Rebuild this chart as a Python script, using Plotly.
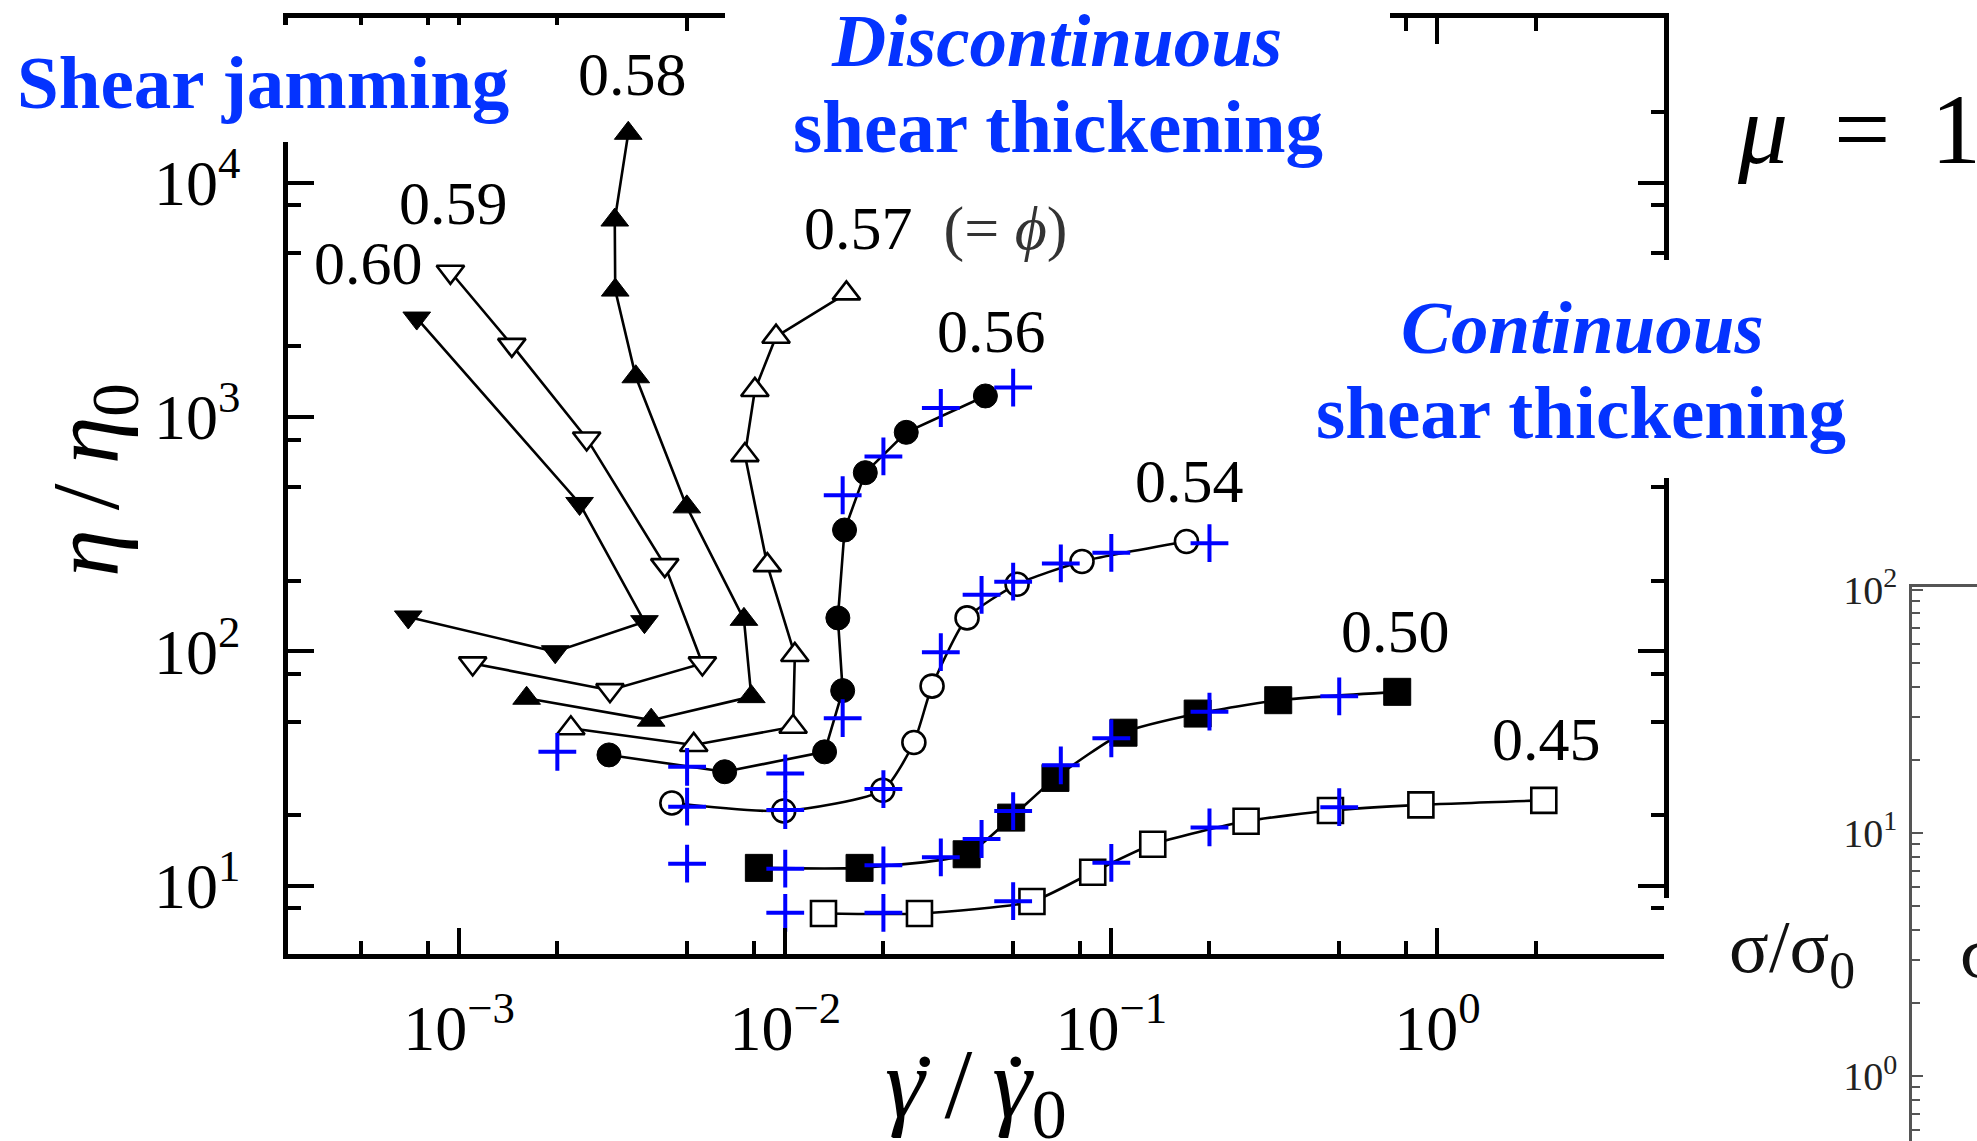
import plotly.graph_objects as go

W, H = 1977, 1141

# ---------------- data ----------------
phi_labels = ["0.60", "0.59", "0.58", "0.57", "0.56", "0.54", "0.50", "0.45"]

x060 = [6.98e-4, 1.97e-3, 3.70e-3, 2.34e-3, 7.41e-4]
y060 = [140, 99.5, 133.7, 427, 2640]

x059 = [1.10e-3, 2.90e-3, 5.57e-3, 4.27e-3, 2.46e-3, 1.45e-3, 9.4e-4]
y059 = [88.7, 68.2, 88.7, 233, 809, 2028, 4160]

x058 = [1.61e-3, 3.88e-3, 7.87e-3, 7.47e-3, 4.99e-3, 3.48e-3, 3.01e-3, 3.00e-3, 3.30e-3]
y058 = [63.0, 50.8, 64.0, 136.8, 413, 1483, 3475, 6918, 16220]

x057 = [2.20e-3, 5.24e-3, 1.057e-2, 1.07e-2, 8.81e-3, 7.52e-3, 8.07e-3, 9.37e-3, 1.54e-2]
y057 = [46.9, 39.8, 47.6, 96.4, 233, 687, 1303, 2198, 3366]

x056 = [2.88e-3, 6.52e-3, 1.32e-2, 1.50e-2, 1.45e-2, 1.52e-2, 1.76e-2, 2.35e-2, 4.11e-2]
y056 = [36.1, 30.6, 37.2, 67.9, 138.7, 329, 578, 859, 1228]

x054 = [4.49e-3, 9.89e-3, 1.99e-2, 2.48e-2, 2.82e-2, 3.61e-2, 5.14e-2, 8.13e-2, 0.170]
y054 = [22.5, 20.8, 25.5, 40.8, 71.0, 138.7, 193, 241.6, 294]

x050 = [8.30e-3, 1.69e-2, 3.60e-2, 4.93e-2, 6.74e-2, 0.109, 0.184, 0.325, 0.753]
y050 = [11.9, 11.9, 13.6, 19.5, 28.8, 44.9, 54.2, 61.8, 67.1]

x045 = [1.31e-2, 2.58e-2, 5.71e-2, 8.77e-2, 0.134, 0.259, 0.470, 0.890, 2.12]
y045 = [7.60, 7.60, 8.55, 11.4, 15.0, 18.8, 20.9, 22.1, 23.1]

cross_x = [0.002, 0.005, 0.005, 0.005, 0.01, 0.01, 0.01, 0.01, 0.015, 0.015,
           0.02, 0.02, 0.02, 0.02, 0.03, 0.03, 0.03, 0.04, 0.04, 0.05,
           0.05, 0.05, 0.05, 0.07, 0.07, 0.1, 0.1, 0.1, 0.2, 0.2, 0.2, 0.5, 0.5]
cross_y = [37.2, 32.1, 21.7, 12.4, 30.1, 21.0, 11.8, 7.65, 51.8, 463,
           678, 25.8, 12.2, 7.65, 1091, 99.1, 13.2, 174, 15.8, 1333,
           198, 20.8, 8.58, 237, 32.6, 263, 42.5, 12.5, 289, 55.2, 17.7, 64.2, 21.6]

x_tickvals = [1e-3, 1e-2, 1e-1, 1]
x_ticktext = ["10<sup>\u22123</sup>", "10<sup>\u22122</sup>", "10<sup>\u22121</sup>", "10<sup>0</sup>"]
y_tickvals = [10, 100, 1000, 10000]
y_ticktext = ["10<sup>1</sup>", "10<sup>2</sup>", "10<sup>3</sup>", "10<sup>4</sup>"]
inset_tickvals = [1, 10, 100]
inset_ticktext = ["10<sup>0</sup>", "10<sup>1</sup>", "10<sup>2</sup>"]

# ---------------- helpers ----------------
def px(x):
    return x / W

def py(y):
    return 1 - y / H

SERIF = "Liberation Serif"
BLUE_TXT = "#0433FF"

fig = go.Figure()

def series(x, y, symbol, filled, size, shape="linear"):
    fig.add_trace(go.Scatter(
        x=x, y=y, mode="lines+markers",
        line=dict(color="black", width=2.6, shape=shape, smoothing=0.6),
        marker=dict(symbol=symbol, size=size,
                    color="black" if filled else "white",
                    line=dict(color="black", width=1 if filled else 2.6)),
        showlegend=False, xaxis="x", yaxis="y"))

series(x060, y060, "triangle-down", True, 24)
series(x059, y059, "triangle-down", False, 24)
series(x058, y058, "triangle-up", True, 24)
series(x057, y057, "triangle-up", False, 24)
series(x056, y056, "circle", True, 24)
series(x054, y054, "circle", False, 23, "spline")
series(x050, y050, "square", True, 27, "spline")
series(x045, y045, "square", False, 25, "spline")

fig.add_trace(go.Scatter(
    x=cross_x, y=cross_y, mode="markers",
    marker=dict(symbol="cross-thin", size=27, color="#0000FF",
                line=dict(color="#0000FF", width=4)),
    showlegend=False, xaxis="x", yaxis="y"))

# inset (dummy trace so axes render)
fig.add_trace(go.Scatter(x=[0.5], y=[5], mode="markers", marker=dict(opacity=0),
                         showlegend=False, xaxis="x2", yaxis="y2", hoverinfo="skip"))

def minor_vals(lo_exp, hi_exp, mults):
    out = []
    for e in range(lo_exp, hi_exp + 1):
        for m in mults:
            out.append(m * 10 ** e)
    return out

axis_common = dict(
    type="log", showline=True, linewidth=4.5, linecolor="black", mirror="allticks",
    ticks="inside", ticklen=26, tickwidth=3.5, tickcolor="black",
    showgrid=False, zeroline=False, tickmode="array", automargin=False,
    tickfont=dict(family=SERIF, size=64, color="black"),
)

fig.update_layout(
    width=W, height=H,
    margin=dict(l=0, r=0, t=0, b=0, autoexpand=False),
    paper_bgcolor="white", plot_bgcolor="rgba(0,0,0,0)",
    xaxis=dict(axis_common, domain=[px(288), px(1664)], range=[-3.525, 0.695],
               anchor="y", tickvals=x_tickvals, ticktext=x_ticktext,
               ticklabelstandoff=14,
               minor=dict(tickmode="array", tickvals=minor_vals(-4, 0, [2, 5, 8]),
                          ticks="inside", ticklen=13, tickwidth=3.5, tickcolor="black",
                          showgrid=False)),
    yaxis=dict(axis_common, domain=[py(954), py(18)], range=[0.708, 4.702],
               anchor="x", tickvals=y_tickvals, ticktext=y_ticktext,
               ticklabelstandoff=30,
               minor=dict(tickmode="array", tickvals=minor_vals(0, 4, [2, 5, 8]),
                          ticks="inside", ticklen=13, tickwidth=3.5, tickcolor="black",
                          showgrid=False)),
    xaxis2=dict(domain=[px(1912), 1.0], anchor="y2", side="top", range=[0, 1],
                showline=True, linewidth=2.5, linecolor="#555", ticks="",
                showticklabels=False, showgrid=False, zeroline=False, automargin=False),
    yaxis2=dict(type="log", domain=[0, py(586.7)], anchor="x2", range=[-0.266, 2.013],
                showline=True, linewidth=2.5, linecolor="#555",
                ticks="inside", ticklen=11, tickwidth=2.2, tickcolor="#555",
                tickmode="array", tickvals=inset_tickvals, ticktext=inset_ticktext,
                tickfont=dict(family=SERIF, size=40, color="#222"),
                ticklabelstandoff=4, showgrid=False, zeroline=False, automargin=False,
                minor=dict(tickmode="array",
                           tickvals=minor_vals(-1, 1, [2, 3, 4, 5, 6, 7, 8, 9]),
                           ticks="inside", ticklen=8, tickwidth=2, tickcolor="#555",
                           showgrid=False)),
)

# white cover boxes (pasted-collage look)
def white_box(x0, y0, x1, y1):
    fig.add_shape(type="rect", xref="paper", yref="paper",
                  x0=px(x0), x1=px(x1), y0=py(y1), y1=py(y0),
                  fillcolor="white", line=dict(width=0), layer="above")

white_box(0, 25, 578, 142)
white_box(725, 0, 1390, 180)
white_box(1300, 260, 1977, 478)
white_box(1664, 898, 1692, 962)

def ann(text, x, y, size, color="black", xanchor="center", yanchor="middle", angle=0,
        family=SERIF):
    fig.add_annotation(text=text, x=px(x), y=py(y), xref="paper", yref="paper",
                       showarrow=False, xanchor=xanchor, yanchor=yanchor,
                       textangle=angle, font=dict(family=family, size=size, color=color))

# phi labels
ann(phi_labels[0], 368, 263, 62)
ann(phi_labels[1], 453, 203, 62)
ann(phi_labels[2], 632, 74, 62)
ann(phi_labels[3] + "\u00a0\u00a0<span style='color:#333'>(=\u00a0<i>\u03d5</i>)</span>",
    802, 229, 62, xanchor="left")
ann(phi_labels[4], 992, 331, 62)
ann(phi_labels[5], 1189, 481, 62)
ann(phi_labels[6], 1395, 631, 62)
ann(phi_labels[7], 1546, 739, 62)

# blue regime labels
ann("<b>Shear jamming</b>", 263, 83, 75, color=BLUE_TXT)
ann("<b><i>Discontinuous</i></b>", 1056, 40, 75, color=BLUE_TXT)
ann("<b>shear thickening</b>", 1058, 127, 75, color=BLUE_TXT)
ann("<b><i>Continuous</i></b>", 1582, 327, 75, color=BLUE_TXT)
ann("<b>shear thickening</b>", 1581, 412, 75, color=BLUE_TXT)

# mu = 1
ann("<i>\u03bc</i>", 1762, 129, 100)
ann("=", 1862, 129, 100)
ann("1", 1956, 129, 100)

# axis titles
ann("<i>\u03b7</i>\u2009/\u2009<i>\u03b7</i><sub>0</sub>", 92, 480, 96, angle=-90)
ann("<i>\u03b3</i>\u2009/\u2009<i>\u03b3</i><sub>0</sub>", 976, 1090, 100)
# dots over gamma (time derivative)
ann("\u02d9", 924, 1088, 100)
ann("\u02d9", 1015, 1088, 100)

# inset labels
ann("\u03c3/\u03c3<sub>0</sub>", 1792, 952, 74, color="#111")
ann("\u03c3", 1958, 952, 74, color="#111", xanchor="left")

fig.write_html("out.html")
